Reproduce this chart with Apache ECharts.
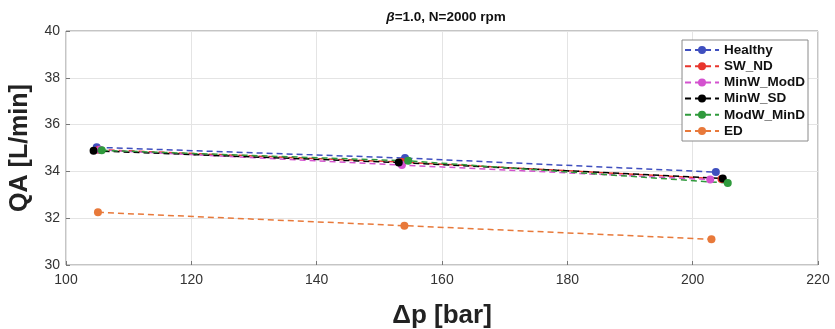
<!DOCTYPE html>
<html><head><meta charset="utf-8">
<script src="https://cdn.jsdelivr.net/npm/echarts@6/dist/echarts.min.js"></script>
<style>html,body{margin:0;padding:0;background:#fff}#c{width:835px;height:329px}</style>
</head><body><div id="c"></div>
<script>
const seriesNames = ['Healthy','SW_ND','MinW_ModD','MinW_SD','ModW_MinD','ED'];
const colors = ['#3f4fbf','#e8352c','#d452cf','#000000','#2f9a3c','#e8793a'];
const healthy   = [[104.9,35.03],[154.1,34.57],[203.7,33.97]];
const swND      = [[105.2,34.93],[153.6,34.40],[204.6,33.68]];
const minwModD  = [[105.4,34.92],[153.6,34.27],[202.8,33.65]];
const minwSD    = [[104.4,34.88],[153.1,34.38],[204.8,33.70]];
const modwMinD  = [[105.7,34.90],[154.6,34.45],[205.6,33.50]];
const ed        = [[105.1,32.25],[154.0,31.68],[203.0,31.10]];
const allData = [healthy, swND, minwModD, minwSD, modwMinD, ed];
const xTicks = [100,120,140,160,180,200,220];
const yTicks = [30,32,34,36,38,40];

const chart = echarts.init(document.getElementById('c'));
const font = 'Liberation Sans, Arial, sans-serif';
chart.setOption({
  animation:false,
  backgroundColor:'#fff',
  title:{
    text:'{i|β}=1.0, N=2000 rpm', left:441, top:5, textAlign:'center',
    textStyle:{fontFamily:font, fontSize:13.5, fontWeight:'bold', color:'#111',
      rich:{i:{fontFamily:font,fontSize:13.5,fontStyle:'italic',color:'#111'}}}
  },
  legend:{
    orient:'vertical', right:27, top:40,
    data:seriesNames, itemWidth:34, itemHeight:10, itemGap:2.2,
    padding:[3,3,3,2],
    borderColor:'#8a8a8a', borderWidth:1, backgroundColor:'#fff',
    textStyle:{fontFamily:font, fontSize:13.5, color:'#111', fontWeight:'bold'}
  },
  grid:{left:66, right:17, top:31, bottom:64, show:true, borderColor:'#8a8a8a', borderWidth:1,
        containLabel:false, outerBoundsMode:'none'},
  xAxis:{
    type:'value', min:xTicks[0], max:xTicks[xTicks.length-1], interval:20,
    name:'Δp [bar]', nameLocation:'middle', nameGap:38,
    nameTextStyle:{fontFamily:font, fontSize:26, fontWeight:'bold', color:'#222'},
    axisLine:{show:false}, axisTick:{show:true, inside:true, length:4, lineStyle:{color:'#777'}},
    axisLabel:{fontFamily:font, fontSize:14, color:'#333', margin:8},
    splitLine:{show:true, lineStyle:{color:'#e4e4e4', width:1}}
  },
  yAxis:{
    type:'value', min:yTicks[0], max:yTicks[yTicks.length-1], interval:2,
    name:'QA [L/min]', nameLocation:'middle', nameGap:33,
    nameTextStyle:{fontFamily:font, fontSize:25, fontWeight:'bold', color:'#222'},
    axisLine:{show:false}, axisTick:{show:true, inside:true, length:4, lineStyle:{color:'#777'}},
    axisLabel:{fontFamily:font, fontSize:14, color:'#333', margin:6},
    splitLine:{show:true, lineStyle:{color:'#e4e4e4', width:1}}
  },
  series: seriesNames.map((n,i)=>({
    name:n, type:'line', data:allData[i],
    symbol:'circle', symbolSize:8,
    itemStyle:{color:colors[i]},
    lineStyle:{color:colors[i], width:1.5, type:[6,4]}
  }))
});
</script></body></html>
